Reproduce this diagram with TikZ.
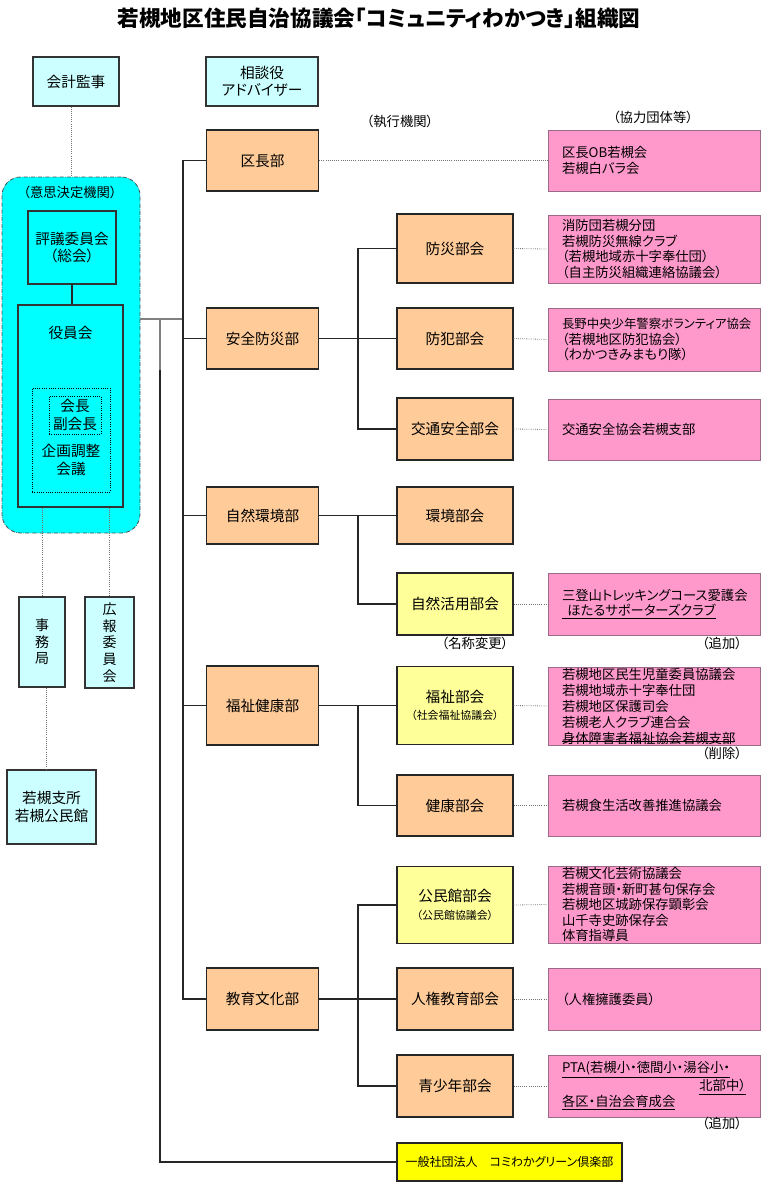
\documentclass[tikz,border=0pt]{standalone}
\usepackage{fontspec}
\setmainfont{Noto Sans CJK JP}[RawFeature=+palt]
\usetikzlibrary{positioning}
\definecolor{sorairo}{HTML}{CCFFFF}
\definecolor{mizuiro}{HTML}{00FFFF}
\definecolor{daidai}{HTML}{FFCC99}
\definecolor{usukiiro}{HTML}{FFFF99}
\definecolor{kiiro}{HTML}{FFFF00}
\definecolor{momo}{HTML}{FF99CC}
\definecolor{momowaku}{HTML}{9A6A88}
\newcommand\honbun{\fontsize{10pt}{11.6pt}\selectfont}
\newcommand\bumei{\fontsize{11pt}{13pt}\selectfont}
\newcommand\chiisai{\fontsize{8.2pt}{10pt}\selectfont}
\newcommand\midashi{\fontsize{16.2pt}{19pt}\selectfont\bfseries}
\newcommand\kasen[1]{\underline{#1}}
\newsavebox\kesibox
\newcommand\torikeshi[1]{\sbox\kesibox{#1}\usebox\kesibox\hspace*{-\wd\kesibox}\raisebox{0.12em}{\rule{\wd\kesibox}{0.6pt}}}
\tikzset{
  wid/.style={minimum width=#1*0.75pt},
  hgt/.style={minimum height=#1*0.75pt},
  sora/.style={draw=black!80, line width=0.8pt, fill=sorairo, align=center, font=\bumei, inner sep=1pt},
  waku/.style={draw=black!80, line width=0.8pt, fill=mizuiro, inner sep=0pt},
  tenwaku/.style={draw=black, densely dotted, line width=0.7pt, align=center, font=\bumei, inner sep=0pt},
  matome/.style={draw=black!70, densely dash dot, line width=0.6pt, fill=mizuiro, rounded corners=14pt},
  bu/.style={draw=black!85, line width=1pt, fill=daidai, align=center, font=\bumei, minimum width=84pt, inner sep=1pt},
  bukai/.style={bu, minimum width=87pt},
  kibukai/.style={bukai, fill=usukiiro},
  dantai/.style={draw=momowaku, line width=0.6pt, fill=momo, align=left, font=\honbun, text width=138pt, inner xsep=10.5pt, inner ysep=0pt},
  chu/.style={font=\honbun, inner sep=0pt},
  sen/.style={draw=black!85, line width=1pt},
  haisen/.style={draw=black!50, line width=1pt},
  tensen/.style={draw=black!55, densely dotted, line width=0.6pt},
}
\begin{document}
\begin{tikzpicture}[x=0.75pt, y=-0.75pt]
  \useasboundingbox (0,0) rectangle (760,1188);
  \node[font=\midashi] (title) at (379,18) {若槻地区住民自治協議会「コミュニティわかつき」組織図};

  % left column
  \node[sora, wid=86, hgt=49] (kaikei) at (76,81.5) {会計監事};
  \node[sora, wid=112, hgt=49] (sodan) at (262,81.5) {相談役\\アドバイザー};
  \node[matome, wid=138, hgt=356] (kettei) at (71,355) {};
  \node[chu] (ketteimei) at (70,192) {（意思決定機関）};
  \node[sora, fill=mizuiro, wid=88, hgt=73] (hyogi) at (72,247.5) {評議委員会\\（総会）};
  \node[waku, wid=105, hgt=202] (yakuin) at (70.5,406) {};
  \node[font=\bumei] (yakuinmei) at (70.5,333) {役員会};
  \node[tenwaku, wid=78, hgt=104] (kikaku) at (71,440) {};
  \node[tenwaku, wid=52, hgt=38] (kaicho) at (75,415) {会長\\副会長};
  \node[font=\bumei, align=center] (kikakumei) at (71,460) {企画調整\\会議};
  \node[sora, wid=46, hgt=90, font=\fontsize{10.5pt}{12.5pt}\selectfont] (jimu) at (42,642) {事\\務\\局};
  \node[sora, wid=49, hgt=91, font=\fontsize{10.5pt}{12.5pt}\selectfont] (koho) at (109.5,642.5) {広\\報\\委\\員\\会};
  \node[sora, wid=89, hgt=74] (shisho) at (51.5,807) {若槻支所\\若槻公民館};

  % bu
  \node[chu] (shikko) at (400,121) {（執行機関）};
  \node[bu, hgt=61] (kucho) at (262.5,160.5) {区長部};
  \node[bu, hgt=61] (anzen) at (262.5,338.5) {安全防災部};
  \node[bu, hgt=57] (shizen) at (262.5,515.5) {自然環境部};
  \node[bu, hgt=79] (fukushi) at (262.5,705.5) {福祉健康部};
  \node[bu, hgt=62] (kyoiku) at (262.5,999) {教育文化部};

  % bukai
  \node[bukai, hgt=69] (bosai) at (455,248.5) {防災部会};
  \node[bukai, hgt=61] (bohan) at (455,338.5) {防犯部会};
  \node[bukai, hgt=62] (kotsu) at (455,429) {交通安全部会};
  \node[bukai, hgt=57] (kankyo) at (455,515.5) {環境部会};
  \node[kibukai, hgt=62] (katsuyo) at (455,604) {自然活用部会};
  \node[chu] (meisho) at (475,643) {（名称変更）};
  \node[kibukai, hgt=78] (fukubu) at (455,705.5) {福祉部会\\{\chiisai （社会福祉協議会）}};
  \node[bukai, hgt=61] (kenko) at (455,805.5) {健康部会};
  \node[kibukai, hgt=77] (kominkan) at (455,905) {公民館部会\\{\chiisai （公民館協議会）}};
  \node[bukai, hgt=62] (jinken) at (455,999) {人権教育部会};
  \node[bukai, hgt=62] (seishonen) at (455,1086) {青少年部会};
  \node[bukai, fill=kiiro, wid=225, hgt=38, font=\fontsize{9pt}{11pt}\selectfont] (ippan) at (509.5,1162) {一般社団法人　コミわかグリーン倶楽部};

  % dantai
  \node[chu] (kyoryoku) at (653,117) {（協力団体等）};
  \node[dantai, hgt=61] (dan-kucho) at (654,160.5) {区長OB若槻会\\若槻白バラ会};
  \node[dantai, hgt=68] (dan-bosai) at (654,249) {消防団若槻分団\\若槻防災無線クラブ\\（若槻地域赤十字奉仕団）\\（自主防災組織連絡協議会）};
  \node[dantai, hgt=63] (dan-bohan) at (654,339.5) {{\fontsize{9.3pt}{11.6pt}\selectfont 長野中央少年警察ボランティア協会}\\（若槻地区防犯協会）\\（わかつきみまもり隊）};
  \node[dantai, hgt=61] (dan-kotsu) at (654,429.5) {交通安全協会若槻支部};
  \node[dantai, hgt=62] (dan-katsuyo) at (654,604) {三登山トレッキングコース愛護会\\\kasen{\hspace*{0.4em}ほたるサポーターズクラブ}};
  \node[chu] (tsuika) at (722,643) {（追加）};
  \node[dantai, hgt=78, font=\fontsize{10pt}{12pt}\selectfont] (dan-fukubu) at (654,706) {若槻地区民生児童委員協議会\\若槻地域赤十字奉仕団\\若槻地区保護司会\\若槻老人クラブ連合会\\\torikeshi{身体障害者福祉協会若槻支部}};
  \node[chu] (sakujo) at (722,753) {（削除）};
  \node[dantai, hgt=61] (dan-kenko) at (654,805.5) {若槻食生活改善推進協議会};
  \node[dantai, hgt=77] (dan-kominkan) at (654,904.5) {若槻文化芸術協議会\\若槻音頭・新町甚句保存会\\若槻地区城跡保存顕彰会\\山千寺史跡保存会\\体育指導員};
  \node[dantai, hgt=62] (dan-jinken) at (654,999) {（人権擁護委員）};
  \node[dantai, hgt=62, font=\fontsize{10pt}{12pt}\selectfont] (dan-seishonen) at (654,1086) {\kasen{PTA(若槻小・徳間小・湯谷小・}\\\hskip 0pt plus 1filll\kasen{北部中）}\\\kasen{各区・自治会育成会}};
  \node[chu] (tsuika2) at (722,1123) {（追加）};

  % connectors
  \coordinate (miki) at (183,0);
  \coordinate (eda) at (358,0);
  \coordinate (bunki) at (160,319);
  \coordinate (oreme) at (160,370);
  \draw[tensen] (kettei.north |- kaikei.south) -- (kettei.north);
  \draw[sen] (hyogi.south) -- (hyogi.south |- yakuin.north);
  \draw[tensen] (yakuin.south -| jimu.north) -- (jimu.north);
  \draw[tensen] (yakuin.south -| koho.north) -- (koho.north);
  \draw[tensen] ([xshift=3pt]jimu.south) -- ([xshift=3pt]jimu.south |- shisho.north);
  \draw[haisen] (kettei.east |- bunki) -- (miki |- bunki);
  \draw[haisen] (bunki) -- (oreme);
  \draw[sen] (oreme) |- (ippan.west);
  \draw[sen] (kucho.west) -- (miki |- kucho.west) -- (miki |- kyoiku.west) -- (kyoiku.west);
  \foreach \b in {anzen,shizen,fukushi}
    \draw[sen] (\b.west) -- (miki |- \b.west);
  \draw[sen] (anzen.east) -- (bohan.west);
  \draw[sen] (bosai.west) -- (bosai.west -| eda) |- (kotsu.west);
  \draw[sen] (shizen.east) -- (kankyo.west);
  \draw[sen] (shizen.east -| eda) |- (katsuyo.west);
  \draw[sen] (fukushi.east) -- (fukubu.west);
  \draw[sen] (fukushi.east -| eda) |- (kenko.west);
  \draw[sen] (kyoiku.east) -- (jinken.west);
  \draw[sen] (kominkan.west) -- (kominkan.west -| eda) |- (seishonen.west);
  \draw[tensen] (kucho.east) -- (dan-kucho.west);
  \foreach \a in {bosai,bohan,kotsu,katsuyo,fukubu,kenko,kominkan,jinken,seishonen}
    \draw[tensen] (\a.east) -- (dan-\a.west);
\end{tikzpicture}
\end{document}
